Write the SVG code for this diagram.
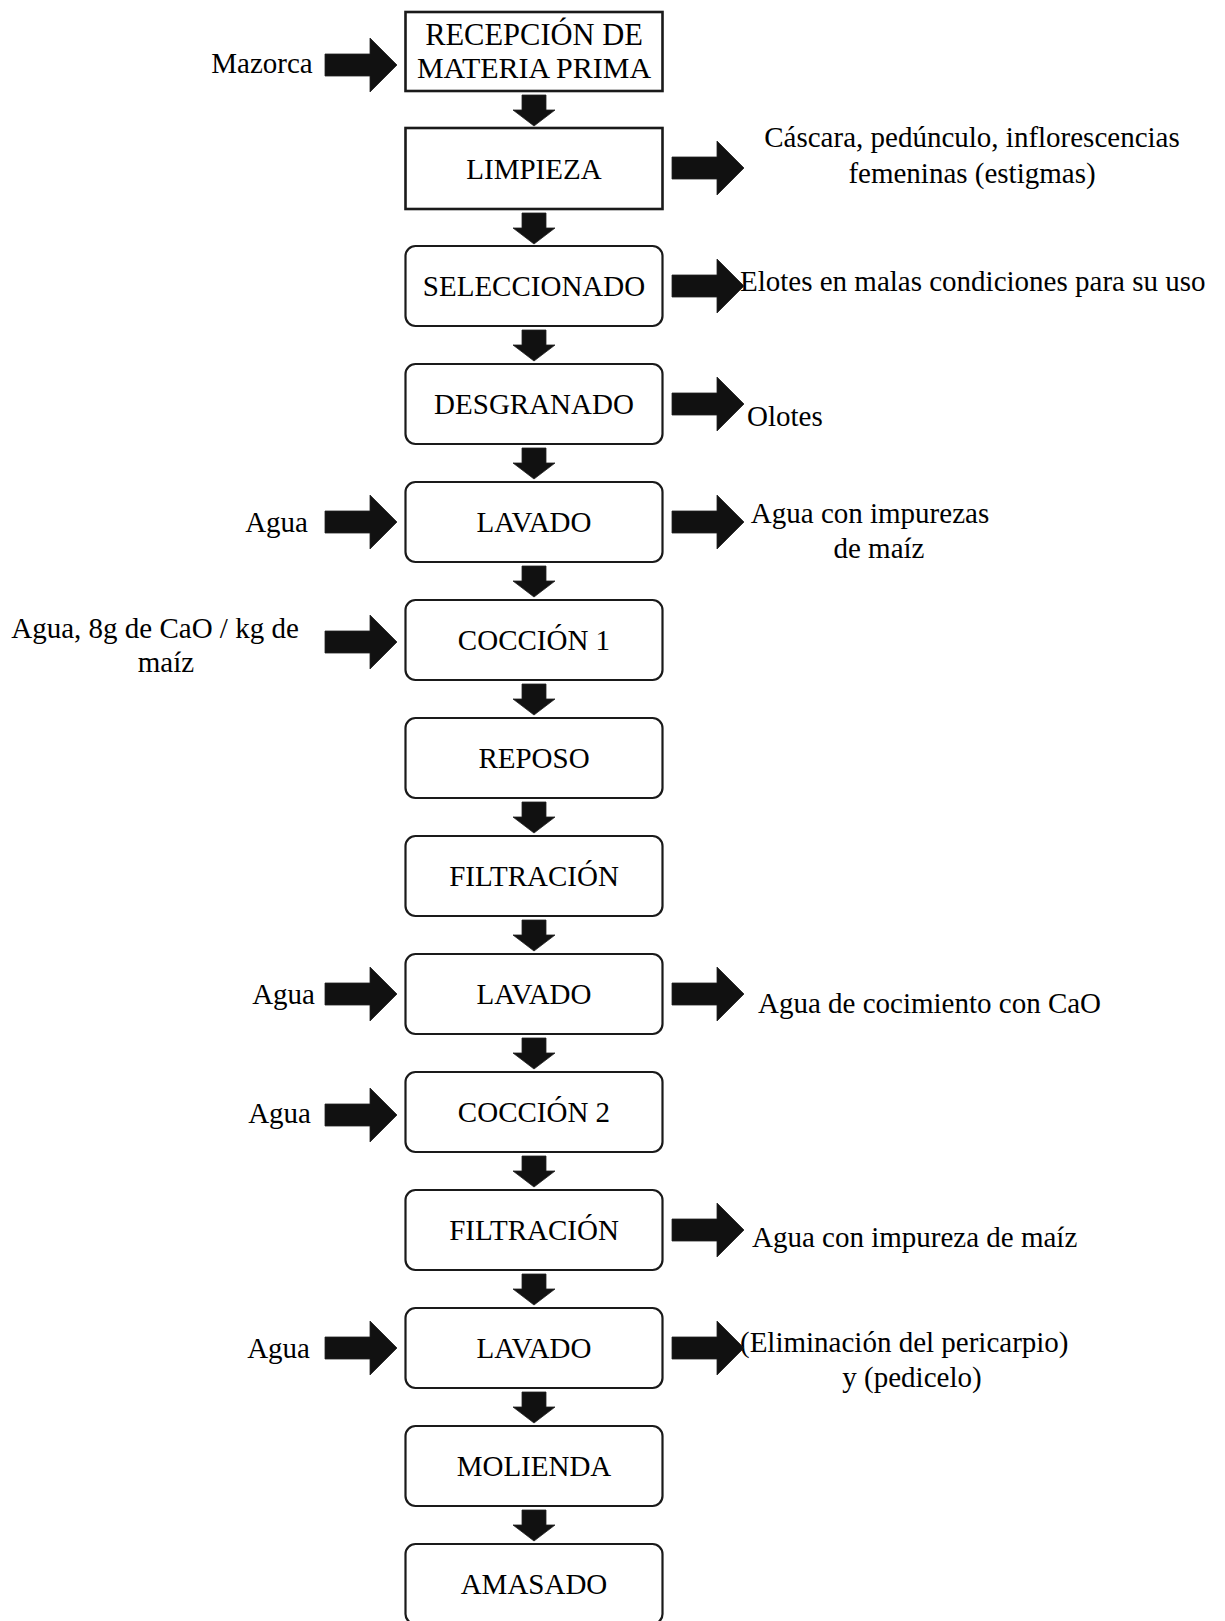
<svg xmlns="http://www.w3.org/2000/svg" width="1225" height="1621" viewBox="0 0 1225 1621">
  <style>
    .box { fill: #ffffff; stroke: #1a1a1a; stroke-width: 2.2; }
    .sq { stroke-width: 2.6; }
    .t { font-family: "Liberation Serif", "Times New Roman", serif; font-size: 29px; fill: #000; }
    .c { text-anchor: middle; }
    .e { text-anchor: end; }
    .arrow { fill: #111111; stroke: #222; stroke-width: 0.8; }
  </style>
  <defs>
    <!-- block arrow pointing down, origin at top centre of the shaft -->
    <path id="down" d="M-12,0 H12 V15 H21 L0,31 L-21,15 H-12 Z"/>
    <!-- block arrow pointing right, origin at left end of the shaft, vertical centre -->
    <path id="right" d="M0,-11 H45 V-27 L72,0 L45,27 V11 H0 Z"/>
  </defs>

  <rect width="1225" height="1621" fill="#ffffff"/>

  <!-- process steps -->
  <g id="recepcion">
    <rect class="box sq" x="405.5" y="12" width="257" height="79"/>
    <text class="t c" x="534" y="45" style="font-size:30.5px">RECEPCIÓN DE</text>
    <text class="t c" x="534" y="78" style="font-size:30px">MATERIA PRIMA</text>
  </g>
  <g id="limpieza">
    <rect class="box sq" x="405.5" y="128" width="257" height="81"/>
    <text class="t c" x="534" y="178.5">LIMPIEZA</text>
  </g>
  <g id="seleccionado">
    <rect class="box" x="405.5" y="246" width="257" height="80" rx="10"/>
    <text class="t c" x="534" y="296">SELECCIONADO</text>
  </g>
  <g id="desgranado">
    <rect class="box" x="405.5" y="364" width="257" height="80" rx="10"/>
    <text class="t c" x="534" y="414">DESGRANADO</text>
  </g>
  <g id="lavado1">
    <rect class="box" x="405.5" y="482" width="257" height="80" rx="10"/>
    <text class="t c" x="534" y="532">LAVADO</text>
  </g>
  <g id="coccion1">
    <rect class="box" x="405.5" y="600" width="257" height="80" rx="10"/>
    <text class="t c" x="534" y="650">COCCIÓN 1</text>
  </g>
  <g id="reposo">
    <rect class="box" x="405.5" y="718" width="257" height="80" rx="10"/>
    <text class="t c" x="534" y="768">REPOSO</text>
  </g>
  <g id="filtracion1">
    <rect class="box" x="405.5" y="836" width="257" height="80" rx="10"/>
    <text class="t c" x="534" y="886">FILTRACIÓN</text>
  </g>
  <g id="lavado2">
    <rect class="box" x="405.5" y="954" width="257" height="80" rx="10"/>
    <text class="t c" x="534" y="1004">LAVADO</text>
  </g>
  <g id="coccion2">
    <rect class="box" x="405.5" y="1072" width="257" height="80" rx="10"/>
    <text class="t c" x="534" y="1122">COCCIÓN 2</text>
  </g>
  <g id="filtracion2">
    <rect class="box" x="405.5" y="1190" width="257" height="80" rx="10"/>
    <text class="t c" x="534" y="1240">FILTRACIÓN</text>
  </g>
  <g id="lavado3">
    <rect class="box" x="405.5" y="1308" width="257" height="80" rx="10"/>
    <text class="t c" x="534" y="1358">LAVADO</text>
  </g>
  <g id="molienda">
    <rect class="box" x="405.5" y="1426" width="257" height="80" rx="10"/>
    <text class="t c" x="534" y="1476">MOLIENDA</text>
  </g>
  <g id="amasado">
    <rect class="box" x="405.5" y="1544" width="257" height="80" rx="10"/>
    <text class="t c" x="534" y="1594">AMASADO</text>
  </g>

  <!-- inputs -->
  <g id="in-mazorca"><text class="t c" x="262" y="73">Mazorca</text></g>
  <g id="in-agua1"><text class="t e" x="308" y="532">Agua</text></g>
  <g id="in-cal">
    <text class="t c" x="155" y="638">Agua, 8g de CaO / kg de</text>
    <text class="t c" x="166" y="672">maíz</text>
  </g>
  <g id="in-agua2"><text class="t e" x="315" y="1004">Agua</text></g>
  <g id="in-agua3"><text class="t e" x="311" y="1123">Agua</text></g>
  <g id="in-agua4"><text class="t e" x="310" y="1358">Agua</text></g>

  <!-- outputs -->
  <g id="out-cascara">
    <text class="t c" x="972" y="147">Cáscara, pedúnculo, inflorescencias</text>
    <text class="t c" x="972" y="183">femeninas (estigmas)</text>
  </g>
  <g id="out-elotes"><text class="t" x="740" y="291">Elotes en malas condiciones para su uso</text></g>
  <g id="out-olotes"><text class="t" x="747" y="426">Olotes</text></g>
  <g id="out-agua-impurezas">
    <text class="t c" x="870" y="523">Agua con impurezas</text>
    <text class="t c" x="879" y="558">de maíz</text>
  </g>
  <g id="out-cocimiento"><text class="t" x="758" y="1013">Agua de cocimiento con CaO</text></g>
  <g id="out-impureza"><text class="t" x="752" y="1247">Agua con impureza de maíz</text></g>
  <g id="out-pericarpio">
    <text class="t" x="740" y="1352">(Eliminación del pericarpio)</text>
    <text class="t c" x="912" y="1387">y (pedicelo)</text>
  </g>

  <!-- connectors -->
  <g id="connectors" class="arrow">
    <use href="#down" x="534" y="95"/>
    <use href="#down" x="534" y="213"/>
    <use href="#down" x="534" y="330"/>
    <use href="#down" x="534" y="448"/>
    <use href="#down" x="534" y="566"/>
    <use href="#down" x="534" y="684"/>
    <use href="#down" x="534" y="802"/>
    <use href="#down" x="534" y="920"/>
    <use href="#down" x="534" y="1038"/>
    <use href="#down" x="534" y="1156"/>
    <use href="#down" x="534" y="1274"/>
    <use href="#down" x="534" y="1392"/>
    <use href="#down" x="534" y="1510"/>

    <use href="#right" x="325" y="65"/>
    <use href="#right" x="325" y="522"/>
    <use href="#right" x="325" y="642"/>
    <use href="#right" x="325" y="994"/>
    <use href="#right" x="325" y="1115"/>
    <use href="#right" x="325" y="1348"/>

    <use href="#right" x="672" y="168"/>
    <use href="#right" x="672" y="286"/>
    <use href="#right" x="672" y="404"/>
    <use href="#right" x="672" y="522"/>
    <use href="#right" x="672" y="994"/>
    <use href="#right" x="672" y="1230"/>
    <use href="#right" x="672" y="1348"/>
  </g>
</svg>
